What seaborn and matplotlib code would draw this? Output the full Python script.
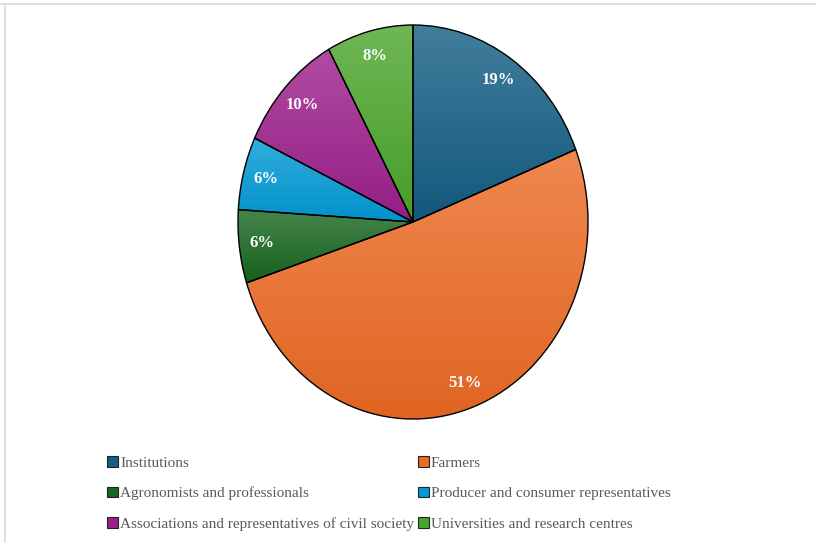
import numpy as np
import matplotlib
matplotlib.use("Agg")
import matplotlib.pyplot as plt
import matplotlib.colors as mcolors
from matplotlib.patches import Patch
from matplotlib.lines import Line2D
import seaborn as sns

sns.set_theme(style="white")
plt.rcParams["font.family"] = ["Liberation Serif", "DejaVu Serif"]

# Stakeholder groups and their shares (%)
categories = [
    "Institutions",
    "Farmers",
    "Agronomists and professionals",
    "Producer and consumer representatives",
    "Associations and representatives of civil society",
    "Universities and research centres",
]
shares = [19, 51, 6, 6, 10, 8]
colors = ["#135d83", "#ec6a24", "#17661f", "#0099d4", "#9c1f8b", "#4aa52b"]

W, H = 816, 543
fig = plt.figure(figsize=(W / 100, H / 100), dpi=100)

# Pie axes: stretched vertically, so the pie is drawn as an ellipse
cx, cy, rx, ry = 413, 222, 175, 197
pad = 1.02
ax = fig.add_axes([(cx - rx * pad) / W, (H - cy - ry * pad) / H,
                   2 * rx * pad / W, 2 * ry * pad / H])

wedges, texts, autotexts = ax.pie(
    shares,
    colors=colors,
    startangle=90,
    counterclock=False,
    autopct="%1.0f%%",
    pctdistance=0.87,
    wedgeprops=dict(edgecolor="black", linewidth=1.0),
    textprops=dict(color="white", fontsize=12, fontweight="bold"),
)
ax.set_aspect("auto")


def shade(c, amount):
    rgb = np.array(mcolors.to_rgb(c))
    if amount > 0:
        return rgb + (1 - rgb) * amount
    return rgb * (1 + amount)


# Vertical gradient fill for each wedge, lighter at the top of its extent
for w, c in zip(wedges, colors):
    bb = w.get_path().get_extents(w.get_patch_transform())
    cmap = mcolors.LinearSegmentedColormap.from_list(
        "g", [shade(c, -0.05), shade(c, 0.2)]
    )
    grad = np.linspace(0, 1, 256).reshape(-1, 1)
    im = ax.imshow(
        grad,
        extent=[-1, 1, bb.y0, bb.y1],
        origin="lower",
        cmap=cmap,
        aspect="auto",
        zorder=w.get_zorder() + 0.1,
        interpolation="bilinear",
    )
    im.set_clip_path(w)
    w.set_facecolor("none")
    w.set_zorder(w.get_zorder() + 0.2)
for t in autotexts:
    t.set_zorder(5)
ax.set_xlim(-pad, pad)
ax.set_ylim(-pad, pad)

# Legend, filled row by row in two columns
order = [0, 2, 4, 1, 3, 5]
handles = [
    Patch(facecolor=colors[i], edgecolor="#222222", linewidth=0.8, label=categories[i])
    for i in order
]
fig.legend(
    handles=handles,
    loc="upper left",
    bbox_to_anchor=(101 / W, 1 - 450 / H),
    ncol=2,
    frameon=False,
    fontsize=11,
    labelcolor="#595959",
    handlelength=0.7,
    handleheight=0.7,
    handletextpad=0.15,
    columnspacing=0.25,
    labelspacing=1.1,
    borderaxespad=0,
)

# Thin frame along the top and left edges
fig.add_artist(Line2D([0, 1], [1 - 3.5 / H, 1 - 3.5 / H], color="#d9d9d9", lw=1.2, transform=fig.transFigure))
fig.add_artist(Line2D([5 / W, 5 / W], [0, 1 - 3.5 / H], color="#d9d9d9", lw=1.2, transform=fig.transFigure))

fig.savefig("out.png", dpi=100, facecolor="white")
